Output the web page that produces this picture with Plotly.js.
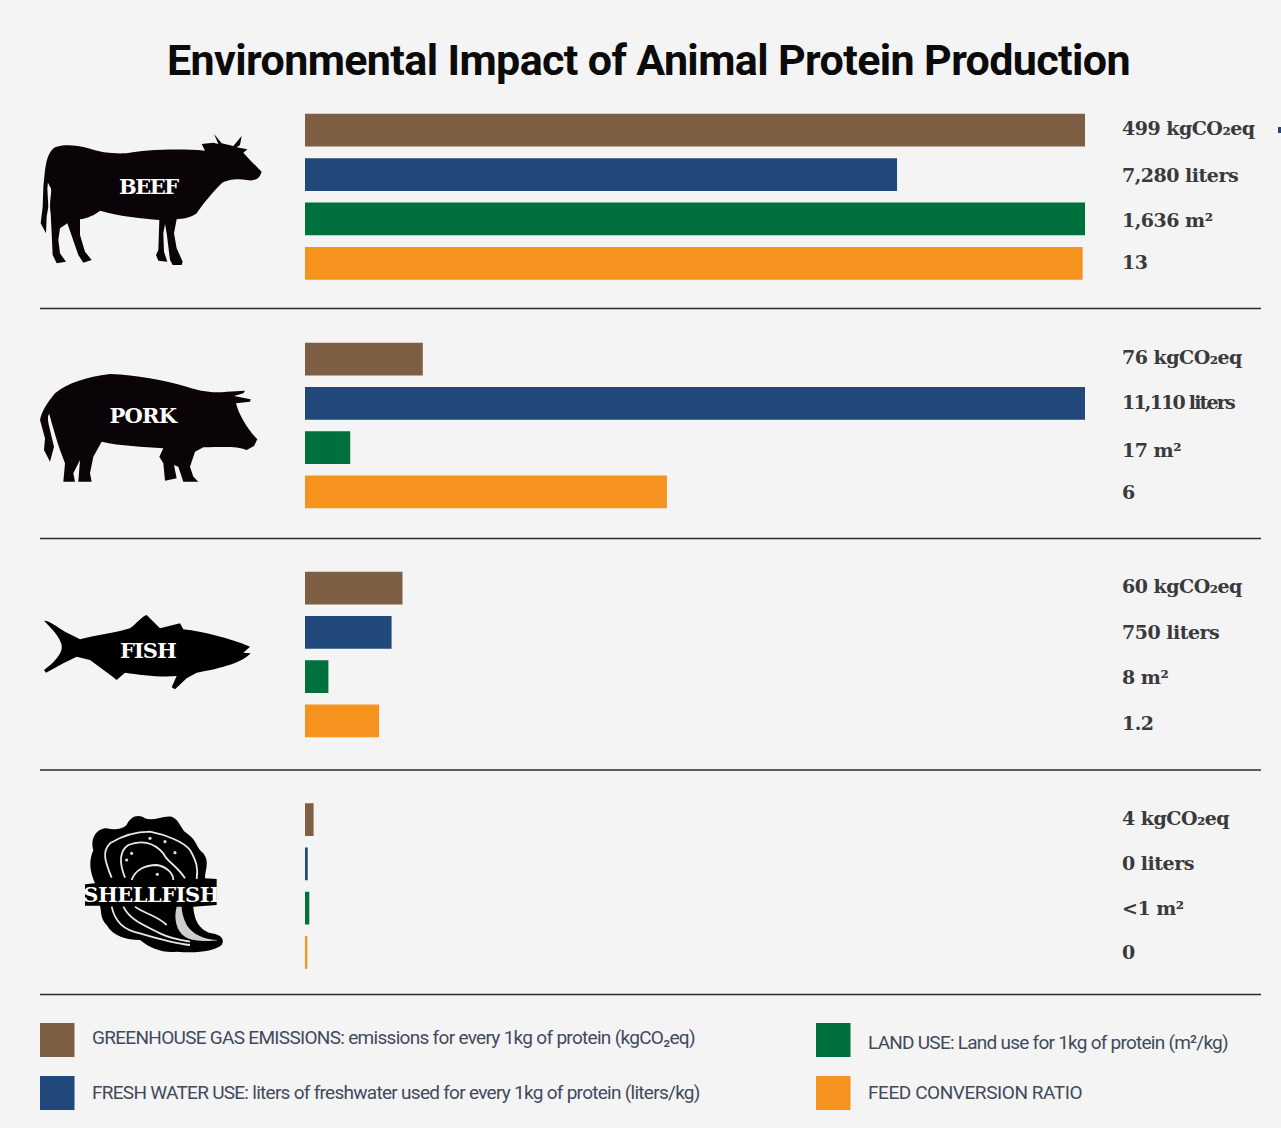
<!DOCTYPE html>
<html><head><meta charset="utf-8">
<script src="https://cdn.plot.ly/plotly-3.0.1.min.js"></script>
<style>html,body{margin:0;padding:0;background:#f4f4f4}#c{width:1281px;height:1128px}
.gtitle{letter-spacing:-0.62px}</style>
</head><body><div id="c"></div>
<script>
const W=1281,H=1128;
// Data: bar length, as % of the longest bar in the chart
const metrics=["Greenhouse gas emissions","Fresh water use","Land use","Feed conversion ratio"];
const metricColors=["#7f5f43","#21487a","#00703c","#f6921e"];
const groupNames=["BEEF","PORK","FISH","SHELLFISH"];
const beefBars=[100,75.9,100,99.7];
const porkBars=[15.1,100,5.8,46.4];
const fishBars=[12.5,11.1,3.0,9.5];
const shellBars=[1.1,0.35,0.55,0.3];
const beefLabels=["499 kgCO₂eq","7,280 liters","1,636 m²","13"];
const porkLabels=["76 kgCO₂eq","11,110 liters","17 m²","6"];
const fishLabels=["60 kgCO₂eq","750 liters","8 m²","1.2"];
const shellLabels=["4 kgCO₂eq","0 liters","<1 m²","0"];
const legendTexts=["GREENHOUSE GAS EMISSIONS: emissions for every 1kg of protein (kgCO₂eq)","FRESH WATER USE: liters of freshwater used for every 1kg of protein (liters/kg)","LAND USE: Land use for 1kg of protein (m²/kg)","FEED CONVERSION RATIO"];

const bars=[beefBars,porkBars,fishBars,shellBars];
const labels=[beefLabels,porkLabels,fishLabels,shellLabels];
const labelNudge=[[2,0,-1,1],[2,1,-2,0],[2,0,0,-2],[2,1,0,0]];
const bands=[[108,285.5],[337,514],[566,743],[797.5,974.5]];
const px=x=>x/W, py=y=>1-y/H;

const traces=bars.map((v,i)=>({type:'bar',orientation:'h',x:v,y:metrics,width:0.74,
  xaxis:'x',yaxis:i?('y'+(i+1)):'y',marker:{color:metricColors,line:{width:0}},
  hoverinfo:'x+y',showlegend:false}));

const layout={width:W,height:H,margin:{l:0,r:0,t:0,b:0},paper_bgcolor:'#f4f4f4',plot_bgcolor:'rgba(0,0,0,0)',
  showlegend:false,
  title:{text:'Environmental Impact of Animal Protein Production',x:648.5/W,y:py(60),xanchor:'center',yanchor:'middle',
    font:{family:'Roboto',size:43,color:'#0b0b0b',weight:700}},
  xaxis:{domain:[px(305),px(1085)],range:[0,100],visible:false,fixedrange:true},
  annotations:[],shapes:[]};
bands.forEach((b,i)=>{
  layout[i?'yaxis'+(i+1):'yaxis']={domain:[py(b[1]),py(b[0])],range:[3.5,-0.5],type:'category',categoryorder:'array',categoryarray:metrics,
    visible:false,fixedrange:true,anchor:'x'};
});

// value labels, tied to each row of the axes
labels.forEach((g,i)=>g.forEach((t,j)=>layout.annotations.push({
  text:t,xref:'paper',x:px(1120),xanchor:'left',align:'left',yref:i?'y'+(i+1):'y',y:j,yanchor:'middle',showarrow:false,yshift:labelNudge[i][j],
  font:{family:'"DejaVu Serif"',size:19,color:'#3a3a3c',weight:700}})));

// group names on the silhouettes
const nameAt=[[148,187],[143,415],[148,650],[151,894]];
groupNames.forEach((t,i)=>layout.annotations.push({text:t,xref:'paper',yref:'paper',x:px(nameAt[i][0]),y:py(nameAt[i][1]),
  xanchor:'center',yanchor:'middle',showarrow:false,font:{family:'"DejaVu Serif"',size:21,color:'#fff',weight:700}}));

// separators
[308.5,538.5,770,994.5].forEach(y=>layout.shapes.push({type:'line',xref:'paper',yref:'paper',x0:px(40),x1:px(1261),y0:py(y),y1:py(y),line:{color:'#2b2b2b',width:1.6}}));
layout.shapes.push({type:'rect',xref:'paper',yref:'paper',x0:px(1278),x1:px(1281),y0:py(127),y1:py(133),fillcolor:'#21487a',line:{width:0}});

// legend
const legendPos=[[40,1023,90,1037],[40,1076,90,1092],[816,1023,866,1042],[816,1076,866,1092]];
legendPos.forEach((p,i)=>{
  layout.shapes.push({type:'rect',xref:'paper',yref:'paper',x0:px(p[0]),x1:px(p[0]+34.5),y0:py(p[1]),y1:py(p[1]+34),fillcolor:metricColors[i],line:{width:0}});
  layout.annotations.push({text:legendTexts[i],xref:'paper',yref:'paper',x:px(p[2]),y:py(p[3]),xanchor:'left',align:'left',yanchor:'middle',showarrow:false,
    font:{family:'Roboto',size:19,color:'#414a5c'}});
});

// silhouettes, traced outlines
function icon(d,ox,oy,fill,stroke,sw){
  let k=0;
  const path=d.replace(/-?\d+(\.\d+)?/g,n=>{
    const v=parseFloat(n)/3; const r=(k++%2===0)?px(ox+v):py(oy+v); return r.toFixed(5);
  });
  layout.shapes.push({type:'path',xref:'paper',yref:'paper',path,fillcolor:fill||'rgba(0,0,0,0)',line:{color:stroke||'rgba(0,0,0,0)',width:sw||0}});
}
const cow="M45,150 C50,120 55,95 75,82 C100,72 140,75 175,85 C210,98 250,102 290,100 C340,90 440,85 525,92 L515,72 L550,68 L565,72 L552,42 L575,70 L610,78 L635,48 L630,75 L620,82 L652,88 L640,98 C655,115 680,140 695,155 C690,175 675,185 650,180 C620,175 590,180 575,190 C550,215 520,250 500,280 C480,295 455,297 440,298 L432,340 L440,385 L458,425 L455,435 L428,435 L420,420 L410,340 L405,312 L400,340 L402,395 L412,425 L385,422 L378,405 L385,390 L388,300 C340,295 270,290 210,272 C195,285 170,295 150,298 L150,345 L165,395 L185,420 L160,428 L145,405 L112,310 L90,325 L85,360 L90,400 L108,425 L80,430 L68,405 L65,340 L62,280 C55,240 70,210 60,200 C50,180 55,190 52,205 L55,260 L50,290 L48,340 L32,310 L38,260 L40,200 Z";
const pig="M30,180 C35,155 50,130 75,100 C110,70 170,50 240,42 C320,45 400,60 470,80 C510,92 540,100 590,95 L645,92 L640,100 L612,108 L662,118 L660,125 L618,130 C625,160 650,205 682,238 L672,258 L650,270 C620,258 580,262 520,262 L495,275 L480,320 L490,350 L505,365 L460,365 L445,320 L432,315 L440,355 L405,362 L400,310 L388,290 L400,265 C340,260 270,258 215,245 L190,290 L180,340 L185,365 L145,365 L150,300 L130,340 L135,365 L100,365 L105,310 L90,270 C80,240 65,190 58,162 C50,170 55,190 60,210 L72,260 L60,305 L42,270 L45,235 Z";
const fish="M42,62 C60,62 80,80 105,95 L150,118 C200,105 260,98 300,85 C320,70 335,50 350,45 L390,85 L450,70 L460,88 C520,95 600,115 660,140 L640,158 L662,160 C640,185 580,205 500,218 L470,235 L435,268 L425,262 L440,228 C390,232 330,225 285,218 L260,240 L245,228 L180,180 L140,170 L100,190 L48,218 L42,210 C70,190 100,160 95,135 C90,110 60,80 42,62 Z";
const shell="M170,60 C180,35 205,25 225,40 C250,50 280,30 305,35 C330,45 330,70 350,85 C385,110 375,125 400,145 C420,170 405,195 405,220 L440,222 L440,300 L370,305 C372,340 385,375 425,385 C455,390 465,405 455,420 C430,440 380,445 320,440 C280,445 240,430 210,405 C170,405 130,395 110,360 C90,340 95,320 90,302 L45,302 L45,238 L75,235 C60,200 55,170 70,135 C60,100 80,70 110,70 C130,75 155,75 170,60 Z";
icon(cow,30,120,'#0a0308');
icon(pig,30,360,'#0a0308');
icon(fish,30,600,'#000');
icon(shell,70,805,'#000');
["M125,218 C105,170 95,140 120,115 C160,90 200,80 240,80 C290,90 340,110 360,135 C380,170 385,190 380,222",
 "M165,218 C150,180 145,140 175,120 C210,105 250,110 280,145 C290,170 320,180 345,220",
 "M185,225 C195,195 225,180 260,180 C290,185 310,205 310,225",
 "M125,305 C135,350 160,375 210,385 C260,400 310,415 360,420",
 "M160,305 C180,345 220,360 270,385 C300,400 330,405 360,410",
 "M195,305 C220,325 260,330 290,360"].forEach(d=>icon(d,70,805,null,'#e8e8e8',1.8));
icon("M320,305 C310,340 320,380 345,395 C365,410 420,410 445,405 C400,405 365,385 350,360 C340,340 335,320 335,305 Z",70,805,'#cfcfcf');
[[240,100],[285,110],[315,143],[185,145],[170,165],[262,208]].forEach(c=>{
  const x=70+c[0]/3,y=805+c[1]/3;
  layout.shapes.push({type:'circle',xref:'paper',yref:'paper',x0:px(x-1.6),x1:px(x+1.6),y0:py(y+1.6),y1:py(y-1.6),fillcolor:'#ddd',line:{width:0}});
});

// per-text tracking, to reach the condensed widths of the reference's typefaces
const tracking={};
for(let i=0;i<16;i++)tracking[i]=-0.5;
tracking[5]=-1.8;
Object.assign(tracking,{16:-1.5,17:-0.75,18:-1,19:-0.5,20:-0.7,21:-0.72,22:-0.75,23:-0.43});
const css=Object.keys(tracking).map(k=>`g.annotation[data-index="${k}"] text{letter-spacing:${tracking[k]}px}`).join('\n');
const st=document.createElement('style');st.textContent=css;document.head.appendChild(st);

Plotly.newPlot('c',traces,layout,{displayModeBar:false,staticPlot:true});
</script></body></html>
